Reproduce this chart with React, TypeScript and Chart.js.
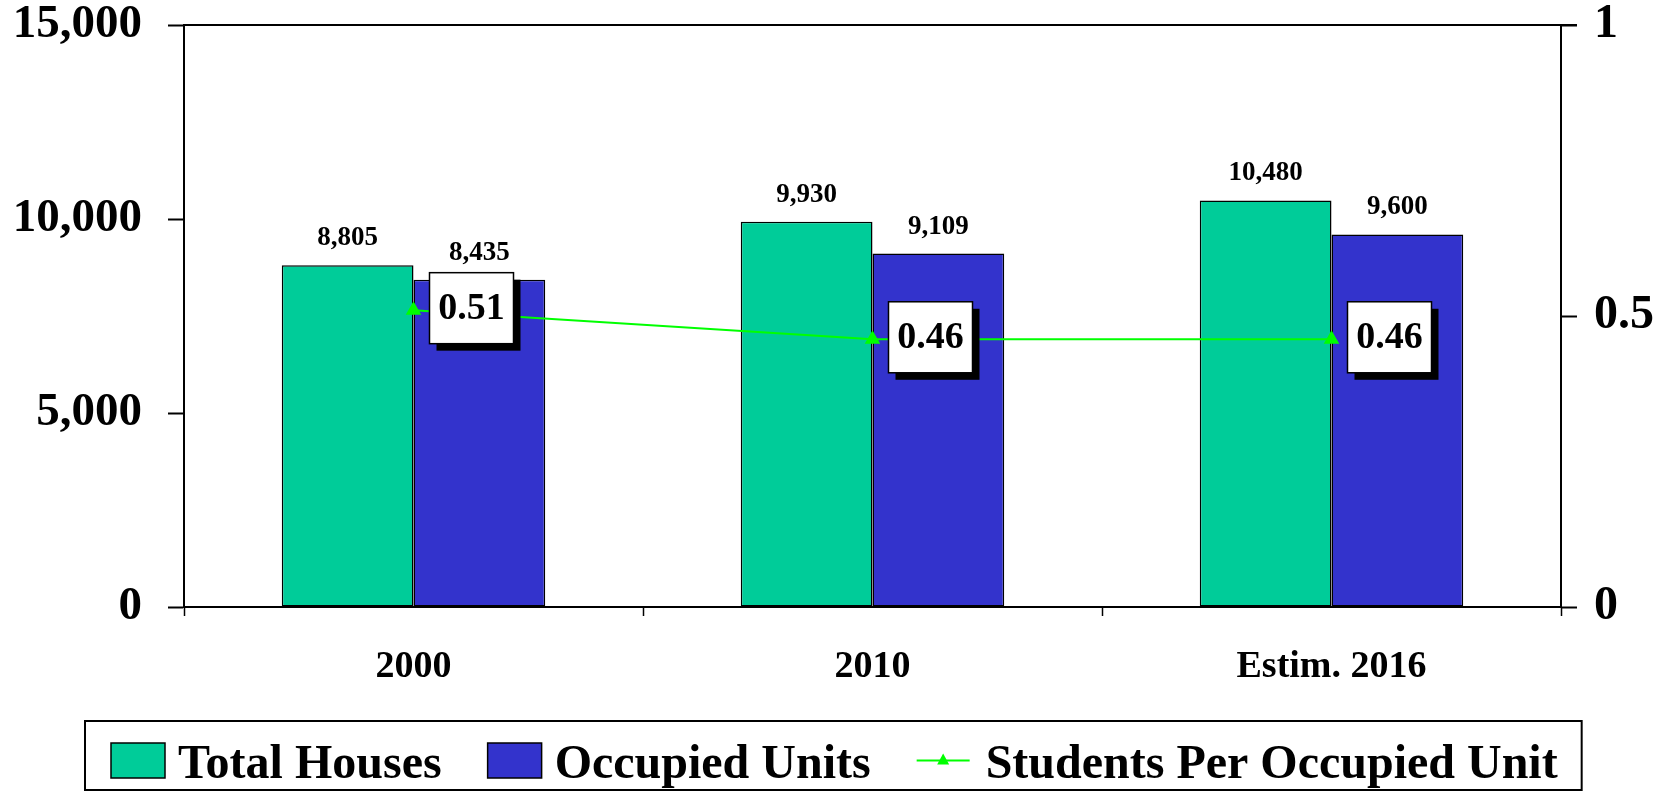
import React, { useEffect, useRef } from "react";
import { Chart, registerables } from "chart.js";

Chart.register(...registerables);

const categories = ["2000", "2010", "Estim. 2016"];
const totalHouses = [8805, 9930, 10480];
const occupiedUnits = [8435, 9109, 9600];
const studentsPerUnit = [0.51, 0.46, 0.46];
const seriesNames = ["Total Houses", "Occupied Units", "Students Per Occupied Unit"];
const leftMax = 15000;
const leftStep = 5000;
const rightMax = 1;
const rightStep = 0.5;

const GREEN = "#00CC99";
const BLUE = "#3333CC";
const LINE = "#00FF00";
const FONT = "'Liberation Serif', 'Times New Roman', serif";

const W = 1671;
const H = 793;

const overlayPlugin = {
  id: "overlay",
  afterDatasetsDraw(chart: any) {
    const ctx = chart.ctx;
    const { left, right, top } = chart.chartArea;
    ctx.save();
    // top frame line
    ctx.strokeStyle = "#000";
    ctx.lineWidth = 2;
    ctx.beginPath();
    ctx.moveTo(left, top);
    ctx.lineTo(right + 16, top);
    ctx.stroke();

    // bar value labels
    ctx.font = `bold 27px ${FONT}`;
    ctx.fillStyle = "#000";
    ctx.textAlign = "center";
    ctx.textBaseline = "middle";
    [0, 1].forEach((di) => {
      const meta = chart.getDatasetMeta(di);
      meta.data.forEach((el: any, i: number) => {
        const v = chart.data.datasets[di].data[i] as number;
        ctx.fillText(v.toLocaleString("en-US"), el.x, el.y - 27);
      });
    });

    // boxed line labels
    const lm = chart.getDatasetMeta(2);
    lm.data.forEach((pt: any, i: number) => {
      const v = chart.data.datasets[2].data[i] as number;
      const bw = 84;
      const bh = 71;
      const bx = pt.x + 16;
      const by = pt.y - bh / 2 - 2;
      ctx.fillStyle = "#000";
      ctx.fillRect(bx + 7, by + 7, bw, bh);
      ctx.fillStyle = "#fff";
      ctx.fillRect(bx, by, bw, bh);
      ctx.lineWidth = 1.5;
      ctx.strokeStyle = "#000";
      ctx.strokeRect(bx, by, bw, bh);
      ctx.font = `bold 38px ${FONT}`;
      ctx.fillStyle = "#000";
      ctx.textAlign = "center";
      ctx.textBaseline = "middle";
      ctx.fillText(v.toFixed(2), bx + bw / 2, by + bh / 2 + 1);
    });
    ctx.restore();
  },
};

const legendPlugin = {
  id: "customLegend",
  afterDraw(chart: any) {
    const ctx = chart.ctx;
    ctx.save();
    ctx.font = `bold 48px ${FONT}`;
    ctx.textAlign = "left";
    ctx.textBaseline = "alphabetic";
    const boxLeft = 85;
    const boxTop = 721;
    const boxBottom = 790;
    const swTop = 743;
    const swH = 35;
    const swW = 54;
    const baseline = 778;
    let x = 111;
    const colors = [GREEN, BLUE];
    seriesNames.forEach((name, i) => {
      if (i < 2) {
        ctx.fillStyle = colors[i];
        ctx.fillRect(x, swTop, swW, swH);
        ctx.strokeStyle = "#000";
        ctx.lineWidth = 1.5;
        ctx.strokeRect(x, swTop, swW, swH);
        x += swW + 13;
      } else {
        const ly = swTop + swH / 2;
        ctx.strokeStyle = LINE;
        ctx.lineWidth = 2;
        ctx.beginPath();
        ctx.moveTo(x, ly);
        ctx.lineTo(x + 53, ly);
        ctx.stroke();
        const cx = x + 26.5;
        ctx.fillStyle = LINE;
        ctx.beginPath();
        ctx.moveTo(cx, ly - 7);
        ctx.lineTo(cx + 6, ly + 4);
        ctx.lineTo(cx - 6, ly + 4);
        ctx.closePath();
        ctx.fill();
        x += 53 + 16;
      }
      ctx.fillStyle = "#000";
      ctx.fillText(name, x, baseline);
      x += ctx.measureText(name).width;
      if (i < seriesNames.length - 1) x += 46;
    });
    const boxRight = x + 24;
    ctx.strokeStyle = "#000";
    ctx.lineWidth = 2;
    ctx.strokeRect(boxLeft, boxTop, boxRight - boxLeft, boxBottom - boxTop);
    ctx.restore();
  },
};

export default function App() {
  const canvasRef = useRef<HTMLCanvasElement | null>(null);

  useEffect(() => {
    if (!canvasRef.current) return;
    Chart.defaults.font.family = FONT;
    const chart = new Chart(canvasRef.current, {
      type: "bar",
      data: {
        labels: categories,
        datasets: [
          {
            type: "bar",
            label: seriesNames[0],
            data: totalHouses,
            backgroundColor: GREEN,
            borderColor: "#000",
            borderWidth: 1.5,
            borderSkipped: false,
            yAxisID: "y",
            order: 1,
            categoryPercentage: 0.574,
            barPercentage: 1,
          } as any,
          {
            type: "bar",
            label: seriesNames[1],
            data: occupiedUnits,
            backgroundColor: BLUE,
            borderColor: "#000",
            borderWidth: 1.5,
            borderSkipped: false,
            yAxisID: "y",
            order: 2,
            categoryPercentage: 0.574,
            barPercentage: 1,
          } as any,
          {
            type: "line",
            label: seriesNames[2],
            data: studentsPerUnit,
            borderColor: LINE,
            backgroundColor: LINE,
            borderWidth: 2,
            pointStyle: "triangle",
            pointRadius: 7,
            pointBackgroundColor: LINE,
            pointBorderColor: LINE,
            yAxisID: "y1",
            order: 0,
            tension: 0,
          } as any,
        ],
      },
      options: {
        responsive: false,
        animation: false,
        layout: { padding: { left: 0, right: 0, top: 25, bottom: 86 } },
        plugins: {
          legend: { display: false },
          tooltip: { enabled: false },
        },
        scales: {
          x: {
            grid: {
              offset: true,
              drawOnChartArea: false,
              tickLength: 9,
              tickColor: "#000",
              tickWidth: 1.5,
            },
            border: { display: true, color: "#000", width: 2 },
            ticks: {
              color: "#000",
              font: { size: 38, weight: "bold", family: FONT },
              padding: 28,
              maxRotation: 0,
            },
            afterFit: (s: any) => {
              s.height = 100;
              s.paddingLeft = 0;
              s.paddingRight = 0;
            },
          },
          y: {
            position: "left",
            min: 0,
            max: leftMax,
            grid: {
              drawOnChartArea: false,
              tickLength: 16,
              tickColor: "#000",
              tickWidth: 2,
            },
            border: { display: true, color: "#000", width: 2 },
            ticks: {
              stepSize: leftStep,
              color: "#000",
              padding: 26,
              font: { size: 47, weight: "bold", family: FONT },
              callback: (v: any) => Number(v).toLocaleString("en-US"),
            },
            afterFit: (s: any) => {
              s.width = 184;
              s.paddingTop = 0;
              s.paddingBottom = 0;
            },
          },
          y1: {
            position: "right",
            min: 0,
            max: rightMax,
            grid: {
              drawOnChartArea: false,
              tickLength: 16,
              tickColor: "#000",
              tickWidth: 2,
            },
            border: { display: true, color: "#000", width: 2 },
            ticks: {
              stepSize: rightStep,
              color: "#000",
              padding: 17,
              font: { size: 48, weight: "bold", family: FONT },
              callback: (v: any) => String(Number(v)),
            },
            afterFit: (s: any) => {
              s.width = W - 1561;
              s.paddingTop = 0;
              s.paddingBottom = 0;
            },
          },
        },
      } as any,
      plugins: [overlayPlugin, legendPlugin],
    });
    return () => chart.destroy();
  }, []);

  return (
    <div style={{ position: "absolute", left: 0, top: 0, width: W, height: H, background: "#fff" }}>
      <canvas ref={canvasRef} width={W} height={H} style={{ display: "block", width: W, height: H }} />
    </div>
  );
}
